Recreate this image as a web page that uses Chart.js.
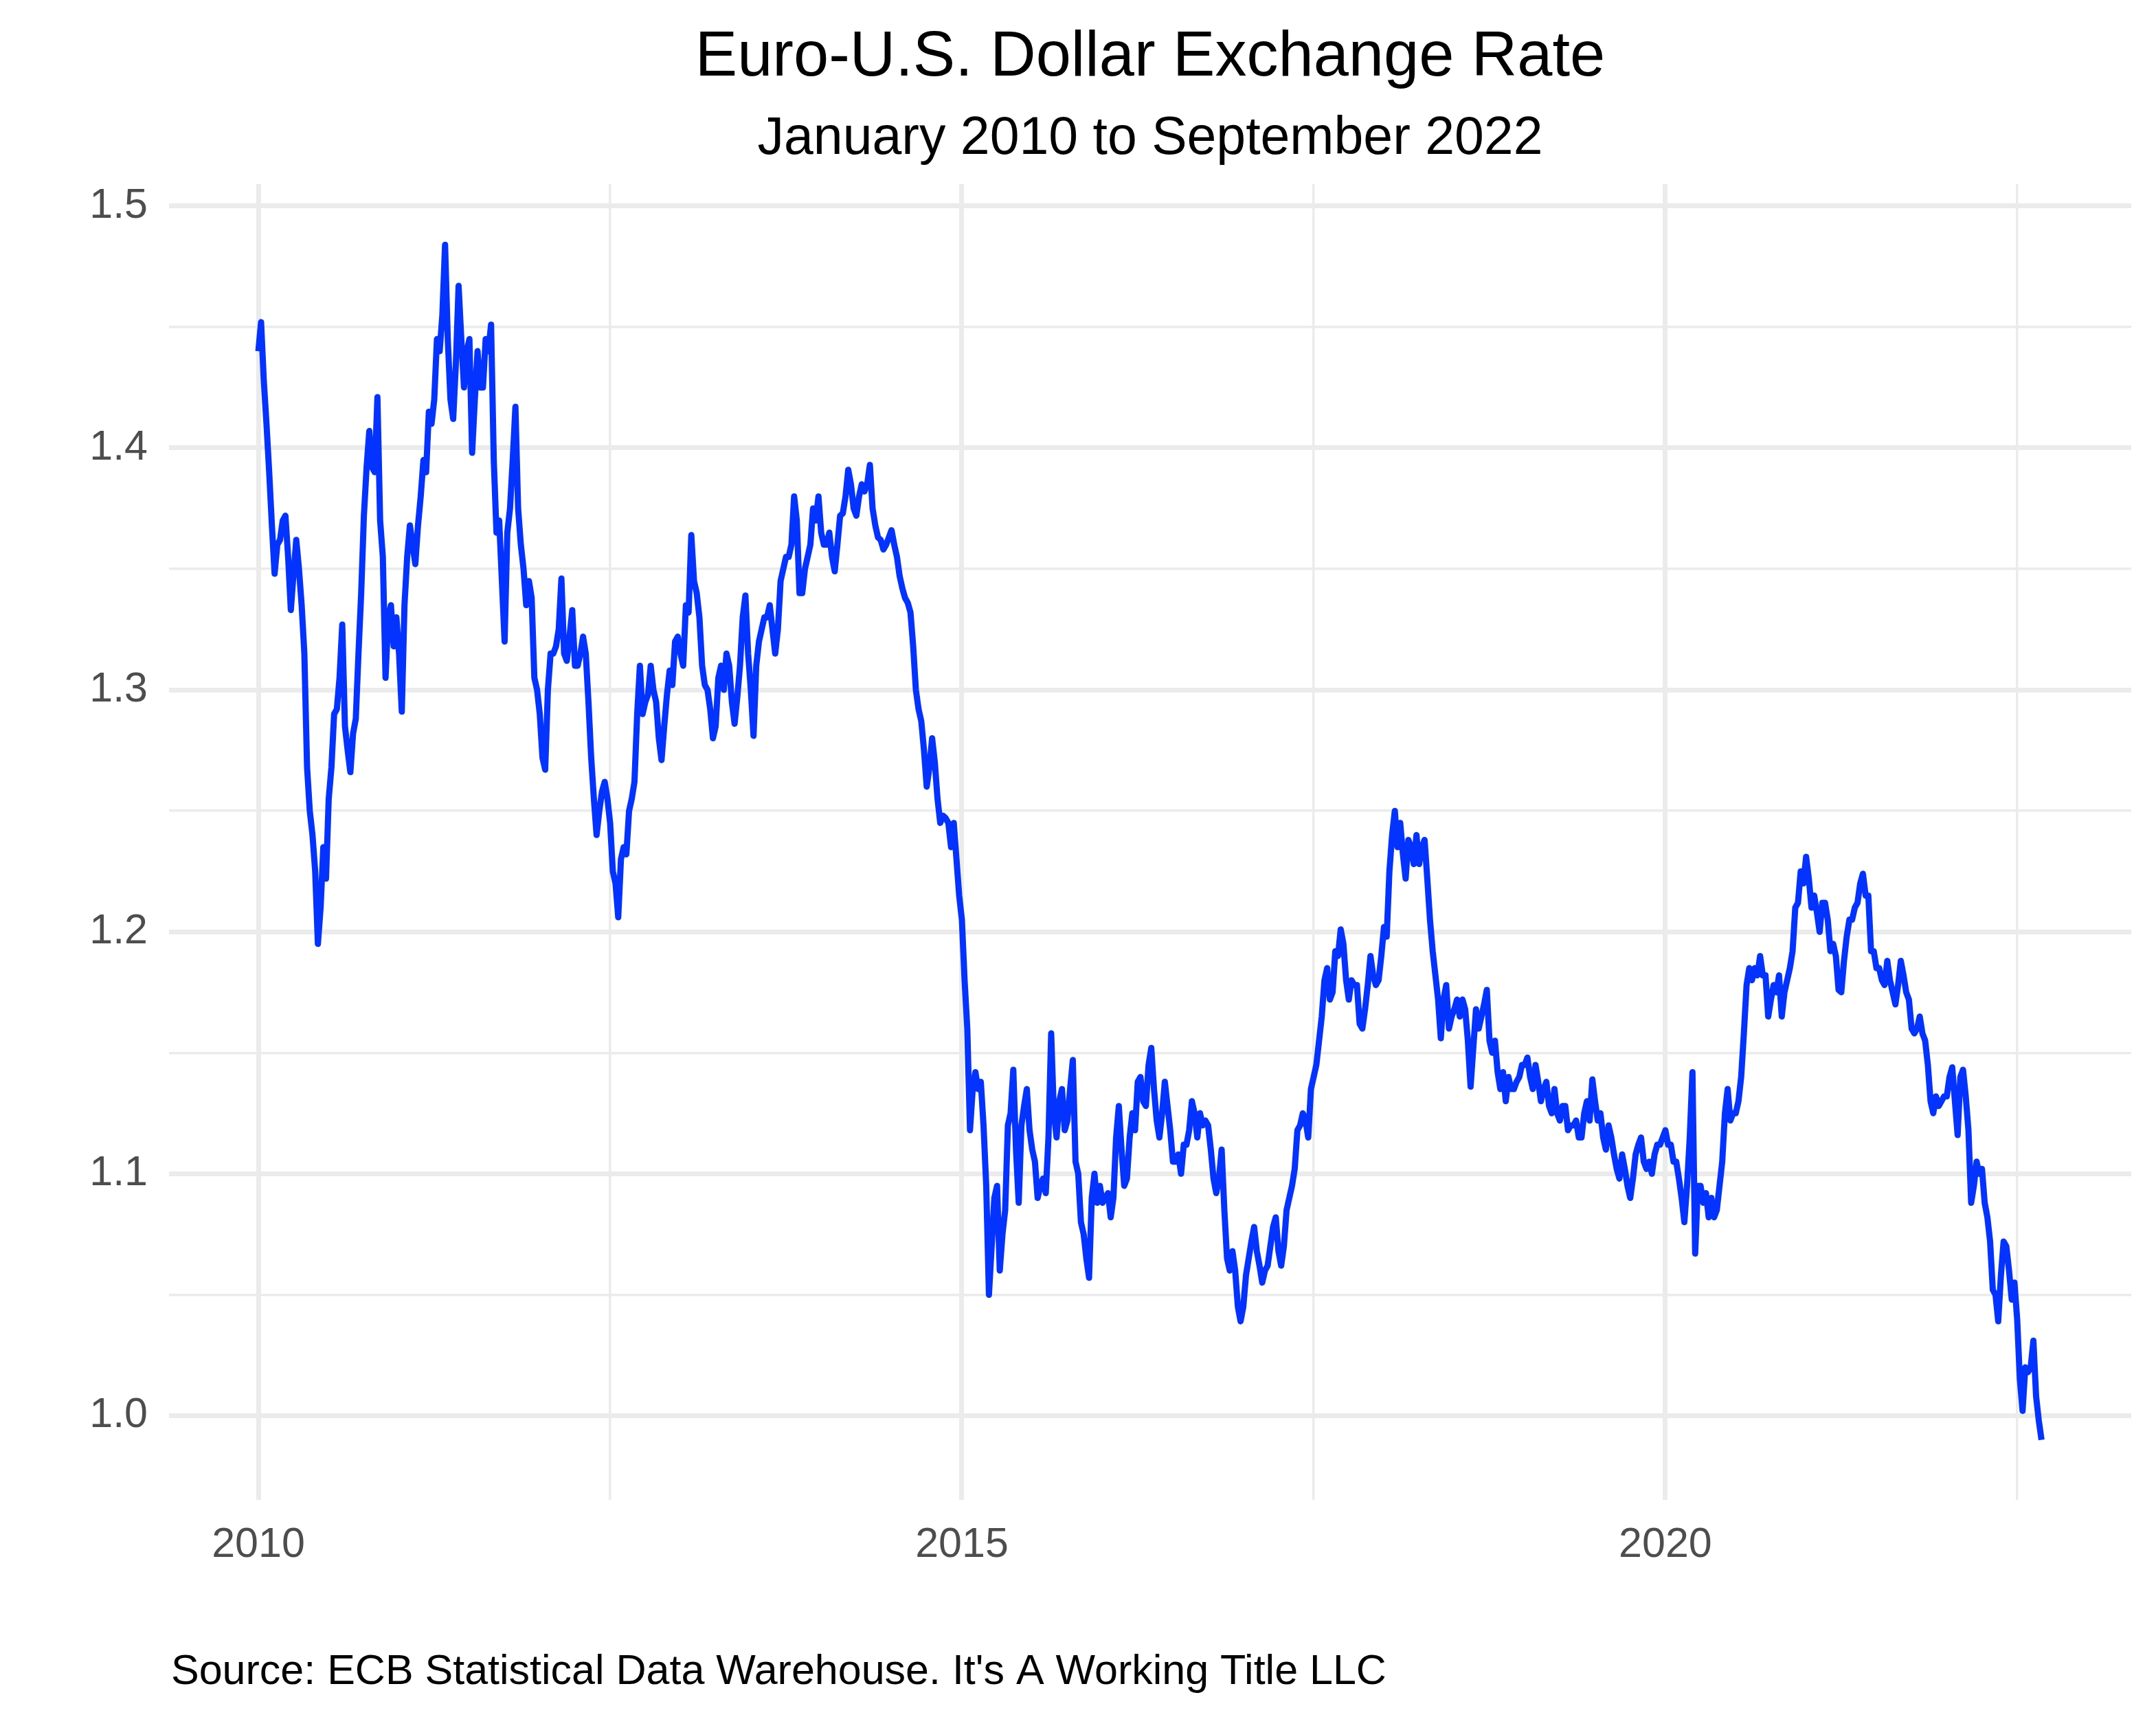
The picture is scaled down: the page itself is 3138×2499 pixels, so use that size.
<!DOCTYPE html>
<html>
<head>
<meta charset="utf-8">
<title>Euro-U.S. Dollar Exchange Rate</title>
<script src="https://cdn.jsdelivr.net/npm/chart.js@4.4.1/dist/chart.umd.min.js"></script>
<style>
  html, body { margin: 0; padding: 0; background: #fff; }
  canvas { display: block; }
</style>
</head>
<body>
<canvas id="chart" width="3138" height="2499"></canvas>
<script>
// weekly EUR/USD reference rate (one value per week from 1 Jan)
const y2010 = [1.440, 1.452, 1.428, 1.410, 1.390, 1.368, 1.348, 1.360, 1.362, 1.370, 1.372, 1.355, 1.333,
  1.348, 1.362, 1.350, 1.335, 1.315, 1.268, 1.250, 1.240, 1.225, 1.195, 1.210, 1.235, 1.222,
  1.255, 1.268, 1.290, 1.292, 1.305, 1.327, 1.285, 1.275, 1.266, 1.282, 1.288, 1.315, 1.340,
  1.372, 1.392, 1.407, 1.392, 1.390, 1.421, 1.370, 1.355, 1.305, 1.330, 1.335, 1.318, 1.330];
const y2011 = [1.315, 1.291, 1.335, 1.355, 1.368, 1.360, 1.352, 1.368, 1.380, 1.395, 1.390, 1.415, 1.410,
  1.420, 1.445, 1.440, 1.455, 1.484, 1.445, 1.420, 1.412, 1.435, 1.467, 1.445, 1.425, 1.440,
  1.445, 1.398, 1.420, 1.440, 1.425, 1.425, 1.445, 1.440, 1.451, 1.395, 1.365, 1.370, 1.345,
  1.320, 1.365, 1.375, 1.395, 1.417, 1.375, 1.360, 1.350, 1.335, 1.345, 1.338, 1.305, 1.300];
const y2012 = [1.290, 1.272, 1.267, 1.300, 1.315, 1.315, 1.318, 1.325, 1.346, 1.315, 1.312, 1.322, 1.333,
  1.310, 1.310, 1.315, 1.322, 1.315, 1.295, 1.272, 1.255, 1.240, 1.250, 1.258, 1.262, 1.255,
  1.245, 1.225, 1.220, 1.206, 1.230, 1.235, 1.232, 1.250, 1.255, 1.262, 1.290, 1.310, 1.290,
  1.295, 1.298, 1.310, 1.300, 1.295, 1.280, 1.271, 1.285, 1.298, 1.308, 1.302, 1.320, 1.322];
const y2013 = [1.315, 1.310, 1.335, 1.332, 1.364, 1.345, 1.340, 1.330, 1.310, 1.302, 1.300, 1.292, 1.280,
  1.285, 1.305, 1.310, 1.300, 1.315, 1.310, 1.295, 1.286, 1.297, 1.310, 1.330, 1.339, 1.315,
  1.300, 1.281, 1.310, 1.320, 1.325, 1.330, 1.330, 1.335, 1.325, 1.315, 1.325, 1.345, 1.350,
  1.355, 1.355, 1.360, 1.380, 1.370, 1.340, 1.340, 1.350, 1.355, 1.360, 1.375, 1.370, 1.380];
const y2014 = [1.365, 1.360, 1.360, 1.365, 1.355, 1.349, 1.360, 1.372, 1.373, 1.380, 1.391, 1.385, 1.375,
  1.372, 1.380, 1.385, 1.382, 1.385, 1.393, 1.375, 1.368, 1.363, 1.362, 1.358, 1.360, 1.363,
  1.366, 1.360, 1.355, 1.347, 1.342, 1.338, 1.336, 1.332, 1.318, 1.300, 1.292, 1.287, 1.275,
  1.260, 1.268, 1.280, 1.270, 1.255, 1.245, 1.248, 1.247, 1.245, 1.235, 1.245, 1.230, 1.215];
const y2015 = [1.205, 1.180, 1.160, 1.118, 1.135, 1.142, 1.135, 1.138, 1.120, 1.095, 1.050, 1.070, 1.090,
  1.095, 1.060, 1.075, 1.085, 1.120, 1.125, 1.143, 1.110, 1.088, 1.120, 1.128, 1.135, 1.118,
  1.110, 1.105, 1.090, 1.095, 1.098, 1.092, 1.115, 1.158, 1.125, 1.115, 1.130, 1.135, 1.118,
  1.122, 1.135, 1.147, 1.105, 1.100, 1.080, 1.075, 1.065, 1.057, 1.090, 1.100, 1.088, 1.095];
const y2016 = [1.088, 1.090, 1.092, 1.082, 1.090, 1.115, 1.128, 1.110, 1.095, 1.098, 1.115, 1.125, 1.118,
  1.138, 1.140, 1.130, 1.128, 1.145, 1.152, 1.135, 1.122, 1.115, 1.125, 1.138, 1.128, 1.118,
  1.105, 1.105, 1.108, 1.100, 1.112, 1.112, 1.118, 1.130, 1.125, 1.115, 1.125, 1.120, 1.122,
  1.120, 1.110, 1.098, 1.092, 1.098, 1.110, 1.085, 1.065, 1.060, 1.068, 1.060, 1.045, 1.039];
const y2017 = [1.045, 1.058, 1.065, 1.072, 1.078, 1.068, 1.062, 1.055, 1.060, 1.062, 1.070, 1.078, 1.082,
  1.068, 1.062, 1.070, 1.085, 1.090, 1.095, 1.102, 1.118, 1.120, 1.125, 1.122, 1.115, 1.135,
  1.140, 1.145, 1.155, 1.165, 1.180, 1.185, 1.172, 1.175, 1.192, 1.190, 1.201, 1.195, 1.180,
  1.172, 1.180, 1.178, 1.178, 1.162, 1.160, 1.168, 1.178, 1.190, 1.182, 1.178, 1.180, 1.190];
const y2018 = [1.202, 1.198, 1.225, 1.240, 1.250, 1.235, 1.245, 1.232, 1.222, 1.238, 1.235, 1.228, 1.240,
  1.228, 1.235, 1.238, 1.222, 1.205, 1.192, 1.182, 1.172, 1.156, 1.172, 1.178, 1.160, 1.165,
  1.168, 1.172, 1.165, 1.172, 1.168, 1.155, 1.136, 1.152, 1.168, 1.160, 1.165, 1.170, 1.176,
  1.155, 1.150, 1.155, 1.142, 1.135, 1.142, 1.130, 1.140, 1.135, 1.135, 1.138, 1.140, 1.145];
const y2019 = [1.145, 1.148, 1.140, 1.135, 1.145, 1.138, 1.130, 1.135, 1.138, 1.128, 1.125, 1.135, 1.125,
  1.122, 1.128, 1.128, 1.118, 1.120, 1.120, 1.122, 1.115, 1.115, 1.125, 1.130, 1.122, 1.139,
  1.130, 1.122, 1.125, 1.115, 1.110, 1.120, 1.115, 1.108, 1.102, 1.098, 1.108, 1.102, 1.095,
  1.090, 1.098, 1.108, 1.112, 1.115, 1.105, 1.102, 1.105, 1.100, 1.108, 1.112, 1.112, 1.115];
const y2020 = [1.118, 1.112, 1.112, 1.105, 1.105, 1.098, 1.090, 1.080, 1.095, 1.115, 1.142, 1.067, 1.095,
  1.095, 1.088, 1.092, 1.082, 1.090, 1.082, 1.085, 1.095, 1.105, 1.125, 1.135, 1.122, 1.125,
  1.125, 1.130, 1.140, 1.158, 1.178, 1.185, 1.180, 1.185, 1.182, 1.190, 1.182, 1.182, 1.165,
  1.172, 1.178, 1.175, 1.182, 1.165, 1.175, 1.180, 1.185, 1.192, 1.210, 1.212, 1.225, 1.220];
const y2021 = [1.231, 1.222, 1.210, 1.215, 1.208, 1.200, 1.212, 1.212, 1.205, 1.192, 1.195, 1.190, 1.176,
  1.175, 1.188, 1.198, 1.205, 1.205, 1.210, 1.212, 1.220, 1.224, 1.215, 1.215, 1.192, 1.192,
  1.185, 1.185, 1.180, 1.178, 1.188, 1.180, 1.175, 1.170, 1.178, 1.188, 1.182, 1.175, 1.172,
  1.160, 1.158, 1.160, 1.165, 1.158, 1.155, 1.145, 1.130, 1.125, 1.132, 1.128, 1.130, 1.132];
const y2022 = [1.132, 1.140, 1.144, 1.130, 1.116, 1.140, 1.143, 1.132, 1.118, 1.088, 1.095, 1.105, 1.100,
  1.102, 1.088, 1.082, 1.072, 1.052, 1.050, 1.039, 1.058, 1.072, 1.070, 1.060, 1.048, 1.055,
  1.040, 1.015, 1.002, 1.020, 1.018, 1.020, 1.031, 1.008, 0.998, 0.990];

const years = [2010, 2011, 2012, 2013, 2014, 2015, 2016, 2017, 2018, 2019, 2020, 2021, 2022];
const weekly = [y2010, y2011, y2012, y2013, y2014, y2015, y2016, y2017, y2018, y2019, y2020, y2021, y2022];

const xTicks = [2010, 2012.5, 2015, 2017.5, 2020, 2022.5];
const yTicks = [1.0, 1.05, 1.1, 1.15, 1.2, 1.25, 1.3, 1.35, 1.4, 1.45, 1.5];

const titleText = 'Euro-U.S. Dollar Exchange Rate';
const subtitleText = 'January 2010 to September 2022';
const captionText = "Source: ECB Statistical Data Warehouse. It's A Working Title LLC";

// dates as decimal years
const points = [];
years.forEach((yr, k) => {
  weekly[k].forEach((v, i) => points.push({ x: yr + i / 52, y: v }));
});

const FONT = '"Liberation Sans", Arial, Helvetica, sans-serif';
Chart.defaults.font.family = FONT;

const isMajorX = v => Math.abs(v % 5) < 1e-6;
const isMajorY = v => Math.abs(v * 10 - Math.round(v * 10)) < 1e-6;

const caption = {
  id: 'caption',
  afterDraw(chart) {
    const ctx = chart.ctx;
    ctx.save();
    ctx.font = '61px ' + FONT;
    ctx.fillStyle = '#000';
    ctx.textAlign = 'left';
    ctx.textBaseline = 'alphabetic';
    ctx.fillText(captionText, 249, 2451);
    ctx.restore();
  }
};

new Chart(document.getElementById('chart'), {
  type: 'line',
  data: {
    datasets: [{
      label: 'EUR/USD',
      data: points,
      borderColor: '#0433FF',
      borderWidth: 9,
      borderJoinStyle: 'round',
      pointRadius: 0,
      fill: false,
      tension: 0
    }]
  },
  options: {
    responsive: false,
    animation: false,
    devicePixelRatio: 1,
    layout: { padding: { left: 0, right: 36, top: 0, bottom: 0 } },
    plugins: {
      legend: { display: false },
      tooltip: { enabled: false },
      title: {
        display: true,
        text: titleText,
        fullSize: false,
        color: '#000',
        font: { size: 92, weight: 'normal' },
        padding: { top: 29, bottom: 17 }
      },
      subtitle: {
        display: true,
        text: subtitleText,
        fullSize: false,
        color: '#000',
        font: { size: 77, weight: 'normal' },
        padding: { top: 0, bottom: 19 }
      }
    },
    scales: {
      x: {
        type: 'linear',
        min: 2009.365,
        max: 2023.311,
        afterFit: s => { s.height = 316; },
        afterBuildTicks: s => { s.ticks = xTicks.map(v => ({ value: v })); },
        border: { display: false },
        grid: {
          color: '#EBEBEB',
          drawTicks: false,
          lineWidth: c => (c.tick && isMajorX(c.tick.value)) ? 7 : 3.5
        },
        ticks: {
          autoSkip: false,
          maxRotation: 0,
          padding: 30,
          color: '#4D4D4D',
          font: { size: 61 },
          callback: v => isMajorX(v) ? String(Math.round(v)) : ''
        }
      },
      y: {
        type: 'linear',
        min: 0.9652,
        max: 1.5091,
        afterFit: s => { s.width = 246; },
        afterBuildTicks: s => { s.ticks = yTicks.map(v => ({ value: v })); },
        border: { display: false },
        grid: {
          color: '#EBEBEB',
          drawTicks: false,
          lineWidth: c => (c.tick && isMajorY(c.tick.value)) ? 7 : 3.5
        },
        ticks: {
          autoSkip: false,
          padding: 31,
          color: '#4D4D4D',
          font: { size: 61 },
          callback: v => isMajorY(v) ? v.toFixed(1) : ''
        }
      }
    }
  },
  plugins: [caption]
});
</script>
</body>
</html>
